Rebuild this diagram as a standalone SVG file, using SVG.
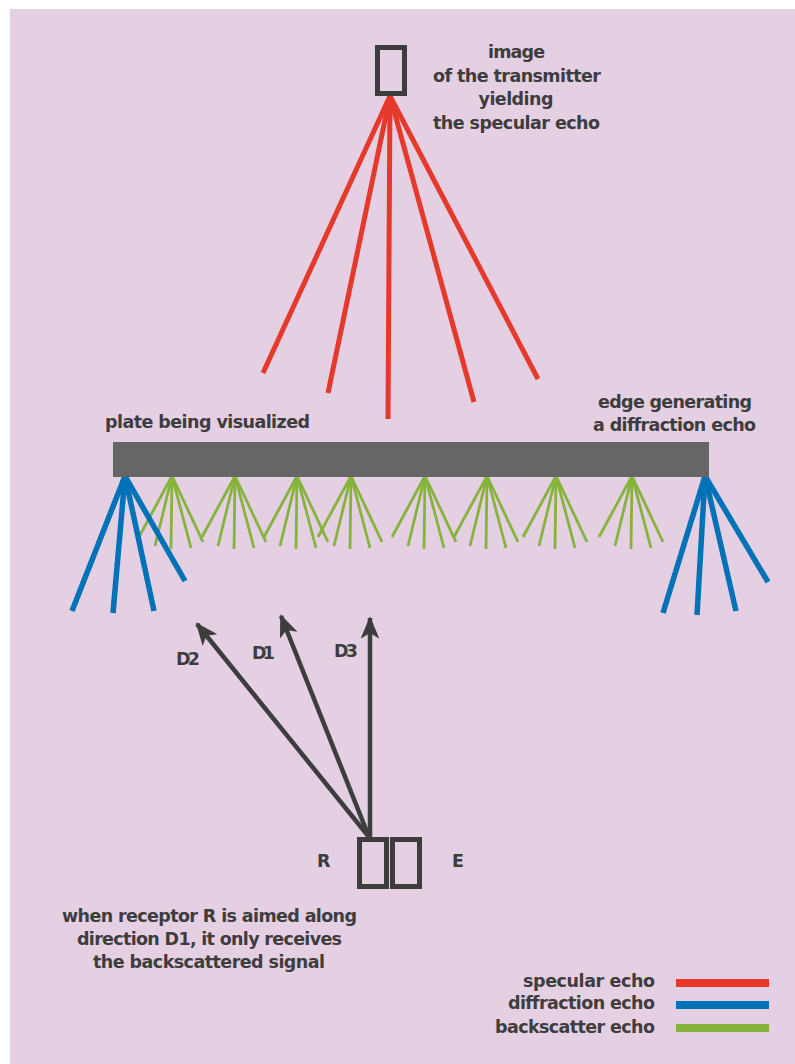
<svg xmlns="http://www.w3.org/2000/svg" width="795" height="1064" viewBox="0 0 795 1064">
<style>
text{font-family:"DejaVu Sans","Liberation Sans",sans-serif;font-weight:bold;font-size:17.5px;fill:#3d3d3d}
.c{text-anchor:middle}
.r{text-anchor:end}
.red{stroke:#e5392b;stroke-width:5;fill:none}
.blue{stroke:#0072b7;stroke-width:5.5;fill:none}
.green{stroke:#86b33b;stroke-width:2.8;fill:none}
.arr{stroke:#3d3d3d;stroke-width:4.5;fill:none}
.box{stroke:#3d3d3d;stroke-width:5;fill:none}
</style>
<defs>
<marker id="ah" viewBox="0 0 12 10" refX="11" refY="5" markerWidth="5" markerHeight="4.2" orient="auto" markerUnits="strokeWidth">
<path d="M0,0 L12,5 L0,10 L3,5 Z" fill="#3d3d3d"/>
</marker>
<g id="fan">
<line x1="0" y1="0" x2="-33" y2="61"/>
<line x1="0" y1="0" x2="-17" y2="70"/>
<line x1="0" y1="0" x2="-1" y2="73"/>
<line x1="0" y1="0" x2="19" y2="72"/>
<line x1="0" y1="0" x2="31" y2="66"/>
</g>
</defs>
<rect x="0" y="0" width="795" height="1064" fill="#ffffff"/>
<rect x="10" y="9" width="785" height="1055" fill="#e4cfe3"/>

<g id="connectors">
<g id="specular" class="red">
<line x1="390" y1="96" x2="263" y2="373"/>
<line x1="390" y1="96" x2="328" y2="393"/>
<line x1="390" y1="96" x2="388" y2="419"/>
<line x1="390" y1="96" x2="474" y2="402"/>
<line x1="390" y1="96" x2="538" y2="379"/>
</g>
<g id="backscatter" class="green">
<use href="#fan" x="172" y="476"/>
<use href="#fan" x="235" y="476"/>
<use href="#fan" x="297" y="476"/>
<use href="#fan" x="351" y="476"/>
<use href="#fan" x="425" y="476"/>
<use href="#fan" x="487" y="476"/>
<use href="#fan" x="556" y="476"/>
<use href="#fan" x="632" y="476"/>
</g>
<g id="diffraction" class="blue">
<line x1="125" y1="476" x2="72" y2="611"/>
<line x1="125" y1="476" x2="113" y2="613"/>
<line x1="125" y1="476" x2="154" y2="611"/>
<line x1="125" y1="476" x2="185" y2="581"/>
<line x1="705" y1="476" x2="663" y2="613"/>
<line x1="705" y1="476" x2="697" y2="615"/>
<line x1="705" y1="476" x2="736" y2="611"/>
<line x1="705" y1="476" x2="768" y2="582"/>
</g>
<g id="directions" class="arr">
<line x1="369" y1="837" x2="197" y2="624" marker-end="url(#ah)"/>
<line x1="369" y1="837" x2="281" y2="616" marker-end="url(#ah)"/>
<line x1="370" y1="837" x2="370" y2="618" marker-end="url(#ah)"/>
</g>
</g>

<g id="transmitter-image">
<rect class="box" x="377.5" y="47.5" width="27" height="46"/>
<text class="c" x="516.5" y="58" textLength="57">image</text>
<text class="c" x="517" y="82" textLength="168">of the transmitter</text>
<text class="c" x="516" y="105" textLength="75">yielding</text>
<text class="c" x="516.5" y="129" textLength="167">the specular echo</text>
</g>

<g id="plate">
<rect x="113" y="442" width="596" height="35" fill="#666666"/>
<text x="105" y="428" textLength="205">plate being visualized</text>
</g>

<g id="edge-label">
<text class="c" x="675" y="408" textLength="154">edge generating</text>
<text class="c" x="674.5" y="431" textLength="163">a diffraction echo</text>
</g>

<g id="labels-d">
<text x="176" y="665" textLength="24">D2</text>
<text x="252" y="659" textLength="23">D1</text>
<text x="334" y="657" textLength="24">D3</text>
</g>

<g id="receptor">
<rect class="box" x="359.5" y="839.5" width="27" height="47"/>
<text x="317" y="867" textLength="13">R</text>
</g>
<g id="emitter">
<rect class="box" x="392.5" y="839.5" width="27" height="47"/>
<text x="452" y="867" textLength="11">E</text>
</g>

<g id="note">
<text class="c" x="209.5" y="922" textLength="295">when receptor R is aimed along</text>
<text class="c" x="209.5" y="945" textLength="265">direction D1, it only receives</text>
<text class="c" x="209" y="968" textLength="232">the backscattered signal</text>
</g>

<g id="legend">
<text class="r" x="655" y="987" textLength="132">specular echo</text>
<text class="r" x="655" y="1009" textLength="147">diffraction echo</text>
<text class="r" x="655" y="1033" textLength="160">backscatter echo</text>
<rect x="676" y="979" width="93" height="8" fill="#e5392b"/>
<rect x="676" y="1001" width="93" height="8" fill="#0072b7"/>
<rect x="676" y="1024" width="93" height="8" fill="#86b33b"/>
</g>
</svg>
